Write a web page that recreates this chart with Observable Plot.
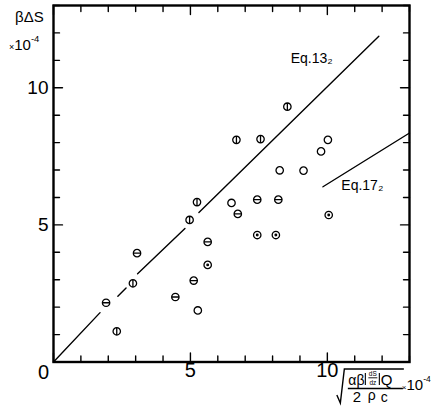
<!DOCTYPE html>
<html><head><meta charset="utf-8">
<script src="https://cdn.jsdelivr.net/npm/d3@7"></script>
<script src="https://cdn.jsdelivr.net/npm/@observablehq/plot@0.6"></script>
<style>body{margin:0;background:#fff}</style>
</head><body><div id="chart"></div>
<script>
const FONT = '"Liberation Sans Narrow","Liberation Sans",Arial,sans-serif';

// data points: x (×10^-4), βΔS (×10^-4), marker kind
const pointX = [8.54, 6.68, 7.56, 5.24, 4.97, 2.90, 2.31,
                7.44, 8.21, 6.73, 5.63, 3.05, 1.92, 4.45, 5.12,
                10.05, 7.44, 8.12, 5.63,
                10.02, 9.77, 8.26, 9.13, 6.50, 5.27];
const pointY = [9.31, 8.10, 8.13, 5.83, 5.18, 2.87, 1.12,
                5.92, 5.92, 5.40, 4.38, 3.97, 2.16, 2.37, 2.97,
                5.36, 4.63, 4.63, 3.54,
                8.10, 7.68, 6.99, 6.98, 5.80, 1.88];
const pointKind = ["phi","phi","phi","phi","phi","phi","phi",
                   "theta","theta","theta","theta","theta","theta","theta","theta",
                   "dot","dot","dot","dot",
                   "open","open","open","open","open","open"];

// Eq.13_2 line (broken into segments as drawn)
const eq13X = [0, 1.70, 2.35, 2.65, 3.07, 4.80, 5.31, 11.88];
const eq13Y = [0, 1.80, 2.40, 2.70, 3.22, 4.87, 5.45, 11.88];
const eq13Seg = [0, 0, 1, 1, 2, 2, 3, 3];
// Eq.17_2 line
const eq17X = [9.84, 13.0];
const eq17Y = [6.39, 8.35];

// annotation labels
const labelText = ["Eq.13\u2082", "Eq.17\u2082"];
const labelX = [8.66, 10.51];
const labelY = [11.05, 6.43];

// axes
const axisTicks = d3.range(0, 14);
const tickLabels = [5, 10];

const points = pointX.map((x, i) => ({x, y: pointY[i], kind: pointKind[i]}));
const eq13 = eq13X.map((x, i) => ({x, y: eq13Y[i], seg: eq13Seg[i]}));
const eq17 = eq17X.map((x, i) => ({x, y: eq17Y[i]}));
const labels = labelText.map((t, i) => ({t, x: labelX[i], y: labelY[i]}));

const rOf = s => Math.sqrt(s / Math.PI);
const circ = (ctx, r) => { ctx.moveTo(r, 0); ctx.arc(0, 0, r, 0, 2 * Math.PI); };
const symbols = {
  phi:   {draw(ctx, s) { const r = rOf(s); circ(ctx, r); ctx.moveTo(0, -r); ctx.lineTo(0, r); }},
  theta: {draw(ctx, s) { const r = rOf(s); circ(ctx, r); ctx.moveTo(-r, 0); ctx.lineTo(r, 0); }},
  dot:   {draw(ctx, s) { const r = rOf(s); circ(ctx, r); ctx.moveTo(0.8, 0); ctx.arc(0, 0, 0.8, 0, 2 * Math.PI); }},
  open:  {draw(ctx, s) { const r = rOf(s); circ(ctx, r); }}
};
const tickShape = {draw(ctx, l) { ctx.moveTo(0, 0); ctx.lineTo(0, -l); }};

const major = axisTicks.filter(d => d % 5 === 0);
const minor = axisTicks.filter(d => d % 5 !== 0);
const tickStyle = {anchor: "start", shape: tickShape, stroke: "black", strokeWidth: 1.4};
const tickMarks = [];
for (const [set, len] of [[minor, 6], [major, 9]]) {
  tickMarks.push(
    Plot.vector(set, {x: d => d, frameAnchor: "bottom", rotate: 0, length: len, ...tickStyle}),
    Plot.vector(set, {x: d => d, frameAnchor: "top", rotate: 180, length: len, ...tickStyle}),
    Plot.vector(set, {y: d => d, frameAnchor: "left", rotate: 90, length: len, ...tickStyle}),
    Plot.vector(set, {y: d => d, frameAnchor: "right", rotate: -90, length: len, ...tickStyle})
  );
}

const dotMarks = Object.keys(symbols).map(k =>
  Plot.dot(points.filter(d => d.kind === k), {
    x: "x", y: "y", r: 3.7, symbol: symbols[k],
    stroke: "black", fill: "white", strokeWidth: 1.3
  })
);

const plot = Plot.plot({
  width: 434, height: 412,
  marginLeft: 53, marginRight: 25, marginTop: 5, marginBottom: 50.5,
  x: {domain: [0, 13], axis: null},
  y: {domain: [0, 13], axis: null},
  style: {fontFamily: FONT, background: "white", color: "black"},
  marks: [
    Plot.line(eq13, {x: "x", y: "y", z: "seg", stroke: "black", strokeWidth: 1.4}),
    Plot.line(eq17, {x: "x", y: "y", stroke: "black", strokeWidth: 1.4}),
    ...dotMarks,
    ...tickMarks,
    Plot.frame({stroke: "black", strokeWidth: 2.4}),
    Plot.text(tickLabels, {x: d => d, frameAnchor: "bottom", dy: 15, text: d => String(d), fontSize: 20, fill: "black"}),
    Plot.text(tickLabels, {y: d => d, frameAnchor: "left", dx: -5, textAnchor: "end", text: d => String(d), fontSize: 19, fill: "black"}),
    Plot.text([0], {x: d => d, y: d => d, dx: -10, dy: 11, text: d => String(d), fontSize: 20, fill: "black"}),
    Plot.text(labels, {x: "x", y: "y", text: "t", textAnchor: "start", fontSize: 14, fill: "black"})
  ]
});
document.getElementById("chart").append(plot);

// axis titles built from pieces of text
const svg = d3.select(plot);
const X = plot.scale("x"), Y = plot.scale("y");
const bx = X.apply(10), by = Y.apply(0);
const g = svg.append("g").attr("font-family", FONT).attr("fill", "black").attr("text-anchor", "start");
const t = (x, y, s, size, anchor = "start") =>
  g.append("text").attr("x", x).attr("y", y).attr("font-size", size).attr("text-anchor", anchor).text(s);
const ln = (pts, w = 1.3) =>
  g.append("path").attr("d", d3.line()(pts)).attr("fill", "none").attr("stroke", "black").attr("stroke-width", w);
// "×10^-4" as one text with tspans
const power = (x, y, s1, s2, s3, dySup) => {
  const el = g.append("text").attr("x", x).attr("y", y).attr("text-anchor", "start");
  el.append("tspan").attr("font-size", s1).text("\u00d7");
  el.append("tspan").attr("font-size", s2).text("10");
  el.append("tspan").attr("font-size", s3).attr("dy", dySup).text("-4");
  return el;
};

// y title
t(15, 22, "\u03b2\u0394S", 15);
power(9, 50, 9, 15, 9.5, -8);

// x title: sqrt( αβ|dS/dz|Q / (2ρc) ) ×10^-4
const ox = bx, oy = by;
ln([[ox + 10, oy + 33.5], [ox + 13.5, oy + 41.5], [ox + 17.5, oy + 7.5], [ox + 77, oy + 7.5]], 1.4);
t(ox + 21.5, oy + 23.5, "\u03b1\u03b2", 14);
ln([[ox + 38.5, oy + 11.5], [ox + 38.5, oy + 23.5]], 1.1);
t(ox + 46, oy + 14.5, "dS", 6.5, "middle");
ln([[ox + 41.5, oy + 16.3], [ox + 50.5, oy + 16.3]], 0.9);
t(ox + 46, oy + 23, "dz", 6.5, "middle");
ln([[ox + 52.5, oy + 11.5], [ox + 52.5, oy + 23.5]], 1.1);
t(ox + 54, oy + 23.5, "Q", 15);
ln([[ox + 21, oy + 27], [ox + 76, oy + 27]], 1.6);
t(ox + 26, oy + 40.5, "2", 15);
t(ox + 41, oy + 38.5, "\u03c1", 14);
t(ox + 54, oy + 40.5, "c", 14);
power(ox + 75, oy + 28, 8, 15, 8.5, -8);
</script></body></html>
